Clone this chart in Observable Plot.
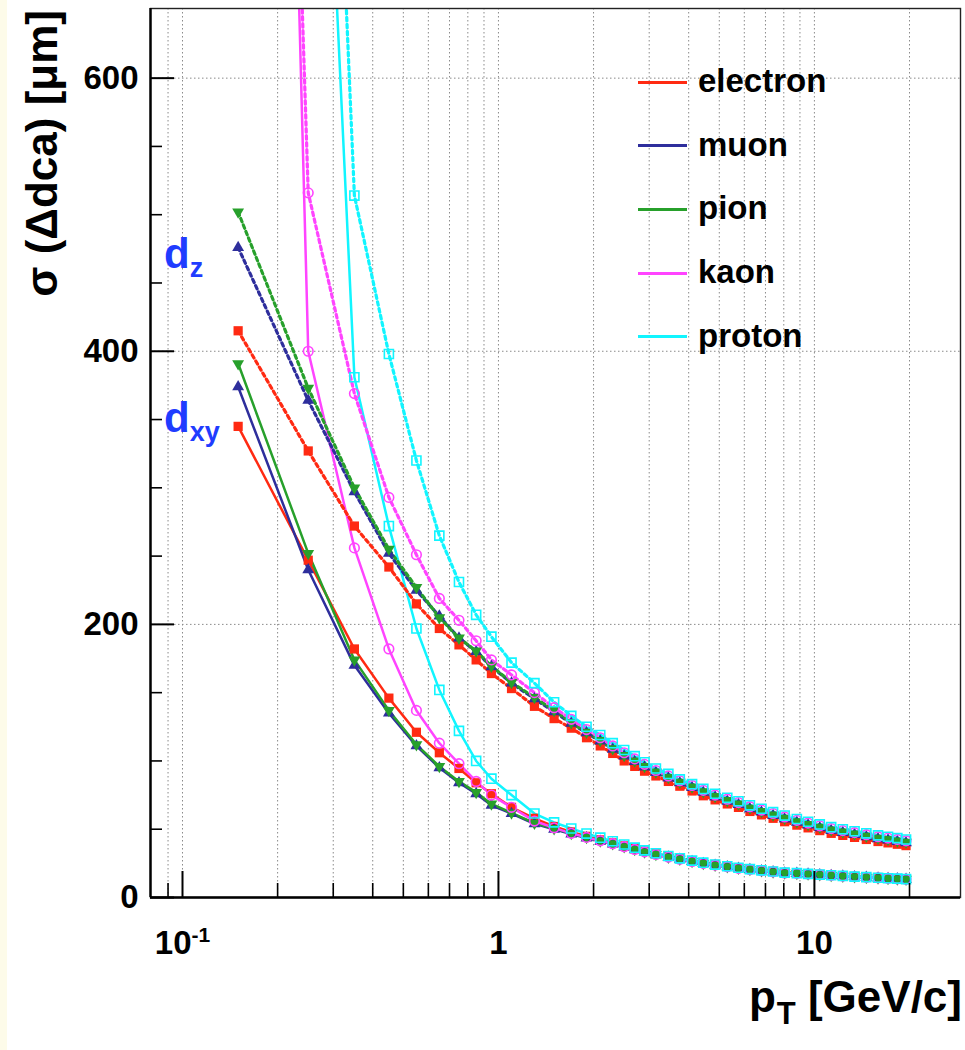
<!DOCTYPE html>
<html><head><meta charset="utf-8">
<script src="https://cdn.jsdelivr.net/npm/d3@7"></script>
<script src="https://cdn.jsdelivr.net/npm/@observablehq/plot@0.6"></script>
<style>
html,body{margin:0;padding:0;background:#fdfbe9;}
#wrap{position:relative;width:965px;height:1050px;overflow:hidden;background:#fdfbe9;font-family:"Liberation Sans",Arial,Helvetica,sans-serif;font-weight:bold;color:#000;}
#chart{position:absolute;left:7px;top:0;}
.ov{position:absolute;white-space:nowrap;line-height:1;}
</style></head>
<body><div id="wrap"><div id="chart"></div></div>
<script>
// ---- data ----
const particles = ["electron","muon","pion","kaon","proton"];
const colors = ["#ff2a12","#2e2e9c","#27a02b","#ff44ff","#11f5ff"];
const pt = [0.15,0.25,0.35,0.45,0.55,0.65,0.75,0.85,0.95,1.1,1.3,1.5,1.7,1.9,2.1,2.3,2.5,2.7,2.9,3.15,3.45,3.75,4.1,4.45,4.85,5.3,5.75,6.25,6.8,7.4,8.05,8.8,9.55,10.4,11.3,12.3,13.4,14.6,15.9,17.1,18.3,19.5];

const dxyElectron = [345,247,182,146,121,106,94.5,84,76,66,58,52,48,44.8,42.2,40,37.8,35.8,34,32,30.1,28.5,26.9,25.5,24.2,23,21.9,20.9,20,19.2,18.4,17.9,17.4,16.9,16.4,15.9,15.4,15,14.6,14.2,13.9,13.6];
const dxyMuon     = [374,240,170,135,111,95,84,76,67.5,61.5,54,50,46.5,43.6,41.2,39.2,37,35,33.2,31.3,29.5,27.9,26.3,24.9,23.6,22.4,21.3,20.4,19.5,18.7,17.9,17.6,17.1,16.6,16.1,15.6,15.1,14.7,14.3,13.9,13.6,13.3];
const dxyPion     = [391,252,174,137,112,96,85,77,68.5,62,54.5,50.5,47,44,41.5,39.4,37.2,35.2,33.4,31.5,29.6,28,26.4,25,23.7,22.5,21.4,20.5,19.6,18.8,18,17.7,17.2,16.7,16.2,15.7,15.2,14.8,14.4,14,13.7,13.4];
const dxyKaon     = [2350,400,256,182,137,113,98,85,75,66,56,51,47,44,41.5,39.4,37.2,35.2,33.4,31.5,29.6,28,26.4,25,23.7,22.5,21.4,20.5,19.6,18.8,18,17.7,17.2,16.7,16.2,15.7,15.2,14.8,14.4,14,13.7,13.4];
const dxyProton   = [null,1100,381,272,197,152,122,100,87,75,61.5,55,50.5,46.8,43.8,41.2,38.8,36.5,34.5,32.4,30.4,28.7,27,25.5,24.1,22.9,21.8,20.8,19.9,19,18.2,17.8,17.3,16.8,16.3,15.8,15.3,14.9,14.5,14.1,13.8,13.5];

const dzElectron = [415,327,272,242,215,197,185,174,164,153,140,131,124,117,111,105.5,100,96,92.5,89,85,81.5,78,74.5,71.5,68.5,66,63,60.5,58,55.5,53,51,49,47,45.5,44,42.5,41,40,39,38];
const dzMuon     = [476,364,297,252,225,206,190,180,169,157,145.5,136,127.5,120.5,114.5,108.5,103.5,99.5,95.5,91.5,87.5,84,80.5,77,73.5,70.5,68,65,62.5,60,57.5,55,53,51,49,47.5,46,44.5,43,42,41,40];
const dzPion     = [502,373,300,255,227,205,190,180.5,169.5,157.5,146.5,137,128,121,115,109,104,100,96,92,88,84.5,81,77.5,74,71,68.5,65.5,63,60.5,58,55.5,53.5,51.5,49.5,48,46.5,45,43.5,42.5,41.5,40.5];
const dzKaon     = [2100,516,369,293,251,219,203,188,174,163,150,139,130.5,123,117,111,106,101.5,97.5,93,89,85.5,82,78.5,75,72,69.5,66.5,64,61.5,59,56.5,54.5,52.5,50.5,49,47.5,46,44.5,43.5,42.5,41.5];
const dzProton   = [null,1300,514,398,320,265,231,207,191,172,157,143,133,125,119,113,108,103.5,99,94.5,90.5,86.5,83,79.5,76,73,70.5,67.5,65,62.5,60,57.5,55.5,53.5,51.5,50,48.5,47,45.5,44.5,43.5,42.5];

const xDomain = [0.0792, 29];
const yDomain = [0, 651];
const xMajorTicks = [0.1, 1, 10];
const xMajorLabels = ["10", "1", "10"];
const xMajorExponents = ["-1", "", ""];
const xMinorTicks = [0.09,0.2,0.3,0.4,0.5,0.6,0.7,0.8,0.9,2,3,4,5,6,7,8,9,20];
const yMajorTicks = [0, 200, 400, 600];
const yMinorTicks = [50,100,150,250,300,350,450,500,550];
const yGridTicks = [200, 400, 600];
const yTitle = "σ (Δdca) [μm]";

// ---- build table ----
const dxySeries = [dxyElectron, dxyMuon, dxyPion, dxyKaon, dxyProton];
const dzSeries = [dzElectron, dzMuon, dzPion, dzKaon, dzProton];
const rows = [];
particles.forEach((p, i) => {
  pt.forEach((x, j) => {
    if (dxySeries[i][j] != null) rows.push({particle: p, kind: "dxy", pt: x, v: dxySeries[i][j]});
    if (dzSeries[i][j] != null) rows.push({particle: p, kind: "dz", pt: x, v: dzSeries[i][j]});
  });
});

const triDown = {draw(ctx, size) {
  const y = -Math.sqrt(size / (Math.sqrt(3) * 3));
  ctx.moveTo(0, -2 * y); ctx.lineTo(-Math.sqrt(3) * y, y); ctx.lineTo(Math.sqrt(3) * y, y); ctx.closePath();
}};
const markerStyle = {
  electron: {symbol: "square", fill: colors[0], stroke: "none", r: 5.2},
  muon: {symbol: "triangle", fill: colors[1], stroke: "none", r: 4.4},
  pion: {symbol: triDown, fill: colors[2], stroke: "none", r: 4.4},
  kaon: {symbol: "circle", fill: "none", stroke: colors[3], strokeWidth: 1.6, r: 4.8},
  proton: {symbol: "square", fill: "none", stroke: colors[4], strokeWidth: 1.6, r: 5.1}
};

const gridStyle = {stroke: "#8a8a8a", strokeOpacity: 1, strokeWidth: 1, strokeDasharray: "1.5,2.5"};
const font = {fontSize: 33, fontWeight: "bold"};

const marks = [
  Plot.gridX(xMajorTicks.concat(xMinorTicks), gridStyle),
  Plot.gridY(yGridTicks, gridStyle),
  Plot.line(rows.filter(d => d.kind === "dxy"), {x: "pt", y: "v", z: "particle", stroke: "particle", strokeWidth: 2.5, clip: true}),
  Plot.line(rows.filter(d => d.kind === "dz"), {x: "pt", y: "v", z: "particle", stroke: "particle", strokeWidth: 3.2, strokeDasharray: "3.5,3.5", clip: true}),
  ...particles.map(p => Plot.dot(rows.filter(d => d.particle === p), {x: "pt", y: "v", clip: true, ...markerStyle[p]})),
  Plot.frame({stroke: "#222", strokeWidth: 1.4}),
  Plot.ruleY([yDomain[0]], {stroke: "#000", strokeWidth: 2.4}),
  Plot.ruleX([xDomain[0]], {stroke: "#000", strokeWidth: 2.4}),
  Plot.axisX({ticks: xMajorTicks, anchor: "bottom", tickSize: -26, strokeWidth: 2, fill: "none", label: null}),
  Plot.axisX({ticks: xMinorTicks, anchor: "bottom", tickSize: -14, strokeWidth: 1.6, fill: "none", label: null}),
  Plot.axisX({ticks: xMajorTicks, anchor: "bottom", tickSize: 0, tickPadding: 33, tickFormat: d => xMajorLabels[xMajorTicks.indexOf(d)], label: null, ...font}),
  Plot.axisY({ticks: yMajorTicks, anchor: "left", tickSize: -24, strokeWidth: 2, fill: "none", label: null}),
  Plot.axisY({ticks: yMinorTicks, anchor: "left", tickSize: -12, strokeWidth: 1.6, fill: "none", label: null}),
  Plot.axisY({ticks: yMajorTicks, anchor: "left", tickSize: 0, tickPadding: 12, tickFormat: d => String(d), label: null, ...font})
];

const chart = Plot.plot({
  width: 958, height: 1050,
  marginLeft: 143, marginRight: 5, marginTop: 8, marginBottom: 153,
  x: {type: "log", domain: xDomain},
  y: {type: "linear", domain: yDomain},
  color: {domain: particles, range: colors},
  style: {fontFamily: "'Liberation Sans', Arial, Helvetica, sans-serif", background: "#ffffff", color: "#000"},
  marks
});
document.getElementById("chart").appendChild(chart);

// exponent on the 10^-1 tick label as a raised tspan
const xLabelTexts = [...chart.querySelectorAll("g[aria-label='x-axis tick label'] text")];
xLabelTexts.forEach((t, i) => {
  const e = xMajorExponents[i];
  if (e) {
    const ts = document.createElementNS("http://www.w3.org/2000/svg", "tspan");
    ts.setAttribute("font-size", "21");
    ts.setAttribute("dy", "-12");
    ts.textContent = e;
    t.appendChild(ts);
  }
});

// ---- overlays: titles, labels, legend ----
const wrap = document.getElementById("wrap");
function addOv(html, style) {
  const d = document.createElement("div");
  d.className = "ov"; d.innerHTML = html; d.style.cssText += style; wrap.appendChild(d); return d;
}
addOv(yTitle, "left:42px;top:10px;font-size:44px;transform-origin:0 0;transform:rotate(-90deg) translate(-100%,-50%);");
addOv('p<span style="font-size:31px;position:relative;top:12px;margin-left:1px;">T</span> [GeV/c]', "right:3px;top:975px;font-size:44px;");
addOv('d<span style="font-size:27px;position:relative;top:9px;">z</span>', "left:164px;top:233px;font-size:42px;color:#1f3cff;");
addOv('d<span style="font-size:27px;position:relative;top:9px;">xy</span>', "left:164px;top:397px;font-size:42px;color:#1f3cff;");
particles.forEach((p, i) => {
  const y = 82 + i * 63.7;
  addOv("", `left:638px;top:${y - 1.5}px;width:49px;height:3px;background:${colors[i]};`);
  addOv(p, `left:698px;top:${y - 18}px;font-size:33px;`);
});
</script>
</body></html>
